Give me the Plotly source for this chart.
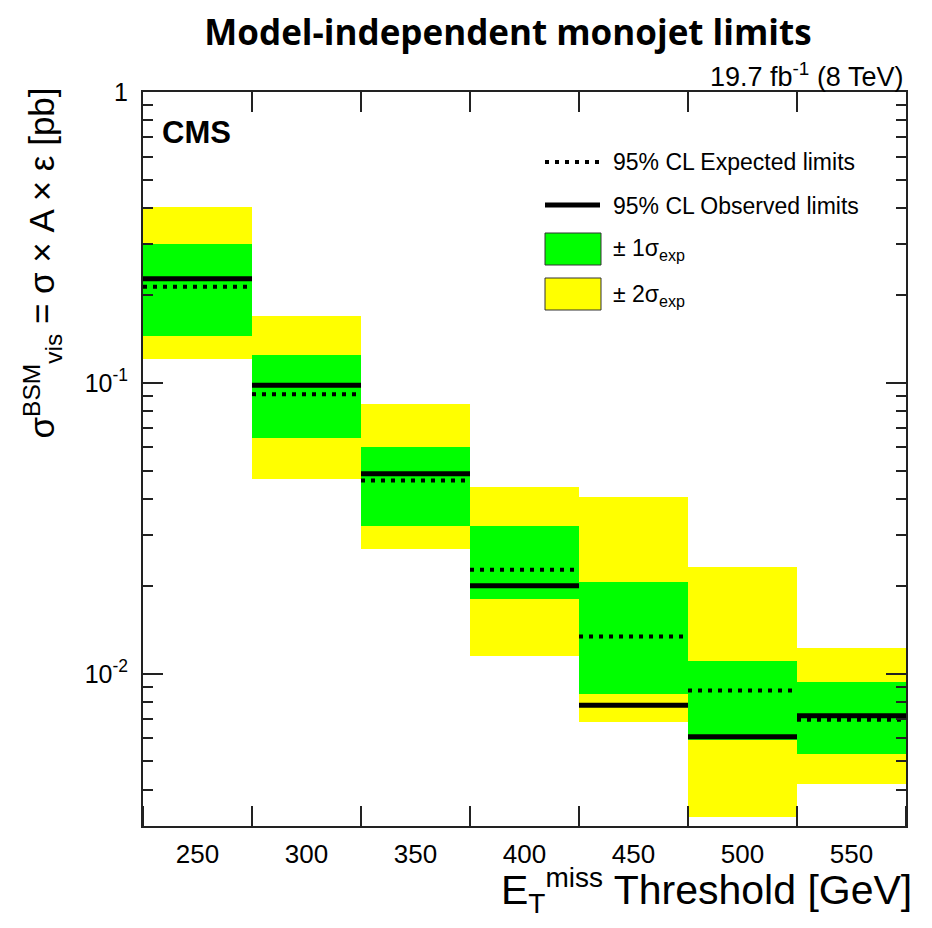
import numpy as np
import plotly.graph_objects as go

# ---- data ----
thresholds = [250, 300, 350, 400, 450, 500, 550]
tick_labels = ["250", "300", "350", "400", "450", "500", "550"]
bin_width = 50
expected = [0.214, 0.0915, 0.0462, 0.0228, 0.01343, 0.00877, 0.00695]
observed = [0.228, 0.0982, 0.0487, 0.0201, 0.00780, 0.00608, 0.00718]
sig1_lo = [0.1455, 0.0646, 0.0323, 0.0181, 0.00853, 0.00593, 0.00531]
sig1_hi = [0.300, 0.125, 0.0604, 0.0323, 0.0207, 0.01111, 0.00941]
sig2_lo = [0.121, 0.0468, 0.0269, 0.01153, 0.00681, 0.00323, 0.00419]
sig2_hi = [0.402, 0.170, 0.0847, 0.0438, 0.0407, 0.0233, 0.01225]
y_ticks = [0.01, 0.1, 1]
y_ticktext = ["10<sup>-2</sup>", "10<sup>-1</sup>", "1"]

YELLOW = "#FFFF00"
GREEN = "#00FF00"
FONT = "Liberation Sans, Arial, sans-serif"

# page body has an 8px default margin; compensate so the plot lands where the reference has it
OFF = 8

fig = go.Figure()

fig.add_trace(go.Bar(
    x=thresholds, base=sig2_lo,
    y=[h - l for h, l in zip(sig2_hi, sig2_lo)],
    width=bin_width, marker=dict(color=YELLOW, line=dict(width=0)),
    showlegend=False, hoverinfo="skip"))
fig.add_trace(go.Bar(
    x=thresholds, base=sig1_lo,
    y=[h - l for h, l in zip(sig1_hi, sig1_lo)],
    width=bin_width, marker=dict(color=GREEN, line=dict(width=0)),
    showlegend=False, hoverinfo="skip"))


def segments(vals):
    xs, ys = [], []
    for c, v in zip(thresholds, vals):
        xs += [c - bin_width / 2, c + bin_width / 2, None]
        ys += [v, v, None]
    return xs, ys


ox, oy = segments(observed)
ex, ey = segments(expected)
fig.add_trace(go.Scatter(x=ox, y=oy, mode="lines",
                         line=dict(color="black", width=5),
                         showlegend=False, hoverinfo="skip"))
fig.add_trace(go.Scatter(x=ex, y=ey, mode="lines",
                         line=dict(color="black", width=4, dash="4px,6px"),
                         showlegend=False, hoverinfo="skip"))

edges = [c - bin_width / 2 for c in thresholds] + [thresholds[-1] + bin_width / 2]
minor_y = [m * 10.0 ** e for e in (-3, -2, -1) for m in range(2, 10) if m * 10.0 ** e >= 0.003]

fig.update_layout(
    width=932, height=928,
    margin=dict(l=143 - OFF, r=26 + OFF, t=92 - OFF, b=102 + OFF),
    paper_bgcolor="white", plot_bgcolor="white",
    barmode="overlay", bargap=0,
    font=dict(family=FONT, color="black"),
    title=dict(text="<b>Model-independent monojet limits</b>",
               font=dict(family="Open Sans, sans-serif", size=35, color="black"),
               x=(508 - OFF) / 932, xanchor="center", y=1 - (33 - OFF) / 928, yanchor="middle"),
    xaxis=dict(range=[edges[0], edges[-1]], tickvals=thresholds, ticktext=tick_labels,
               ticks="", showgrid=False, zeroline=False,
               showline=True, linecolor="#222", linewidth=2, mirror=True,
               tickfont=dict(size=26, family=FONT), ticklabelstandoff=4,
               minor=dict(tickvals=edges, ticks="inside", ticklen=20,
                          tickcolor="#222", tickwidth=1.5, showgrid=False)),
    yaxis=dict(type="log", range=[np.log10(0.003), 0], tickvals=y_ticks, ticktext=y_ticktext,
               ticks="inside", ticklen=20, tickcolor="#222", tickwidth=1.5,
               showgrid=False, zeroline=False,
               showline=True, linecolor="#222", linewidth=2, mirror="ticks",
               tickfont=dict(size=25, family=FONT), ticklabelstandoff=8,
               minor=dict(tickvals=minor_y, ticks="inside", ticklen=10,
                          tickcolor="#222", tickwidth=1.5, showgrid=False)),
)

# ticks on the top edge at the bin boundaries via an overlay axis
fig.update_layout(xaxis2=dict(overlaying="x", side="top", range=[edges[0], edges[-1]],
                              tickvals=edges, ticks="inside", ticklen=20, tickcolor="#222",
                              tickwidth=1.5, showticklabels=False, showgrid=False,
                              zeroline=False, showline=False))
fig.add_trace(go.Scatter(x=[edges[0]], y=[1], xaxis="x2", mode="markers",
                         marker=dict(opacity=0), showlegend=False, hoverinfo="skip"))


def px(x):
    return (x - 143) / 763


def py(y):
    return (826 - y) / 734


annotations = [
    dict(text="<b>CMS</b>", x=px(160), y=py(132), xanchor="left", yanchor="middle",
         font=dict(size=31, family=FONT)),
    dict(text="19.7 fb<sup>-1</sup> (8 TeV)", x=px(905), y=py(75), xanchor="right",
         yanchor="middle", font=dict(size=27, family=FONT)),
    dict(text="σ<sup>BSM</sup><sub>vis</sub> = σ × A × ε [pb]", x=px(42), y=py(86),
         xanchor="center", yanchor="top", textangle=-90, font=dict(size=35, family=FONT)),
    dict(text='E<sub><span style="font-size:28px">T</span></sub>'
              '<sup><span style="font-size:28px">miss</span></sup> Threshold [GeV]',
         x=px(914), y=py(890), xanchor="right", yanchor="middle",
         font=dict(size=41, family=FONT)),
    dict(text="95% CL Expected limits", x=px(611), y=py(162), xanchor="left",
         yanchor="middle", font=dict(size=23, family=FONT)),
    dict(text="95% CL Observed limits", x=px(611), y=py(206), xanchor="left",
         yanchor="middle", font=dict(size=23, family=FONT)),
    dict(text="± 1σ<sub>exp</sub>", x=px(611), y=py(250), xanchor="left",
         yanchor="middle", font=dict(size=23, family=FONT)),
    dict(text="± 2σ<sub>exp</sub>", x=px(611), y=py(295), xanchor="left",
         yanchor="middle", font=dict(size=23, family=FONT)),
]
for a in annotations:
    a.update(xref="paper", yref="paper", showarrow=False)
fig.update_layout(annotations=annotations)

shapes = [
    dict(type="line", x0=px(545), x1=px(600), y0=py(162), y1=py(162),
         line=dict(color="black", width=4, dash="4px,6px")),
    dict(type="line", x0=px(545), x1=px(600), y0=py(205), y1=py(205),
         line=dict(color="black", width=5)),
    dict(type="rect", x0=px(545), x1=px(601), y0=py(265), y1=py(233),
         fillcolor=GREEN, line=dict(color="#333", width=1)),
    dict(type="rect", x0=px(545), x1=px(601), y0=py(310), y1=py(278),
         fillcolor=YELLOW, line=dict(color="#333", width=1)),
]
for s in shapes:
    s.update(xref="paper", yref="paper")
fig.update_layout(shapes=shapes)

fig.write_html("out.html")
